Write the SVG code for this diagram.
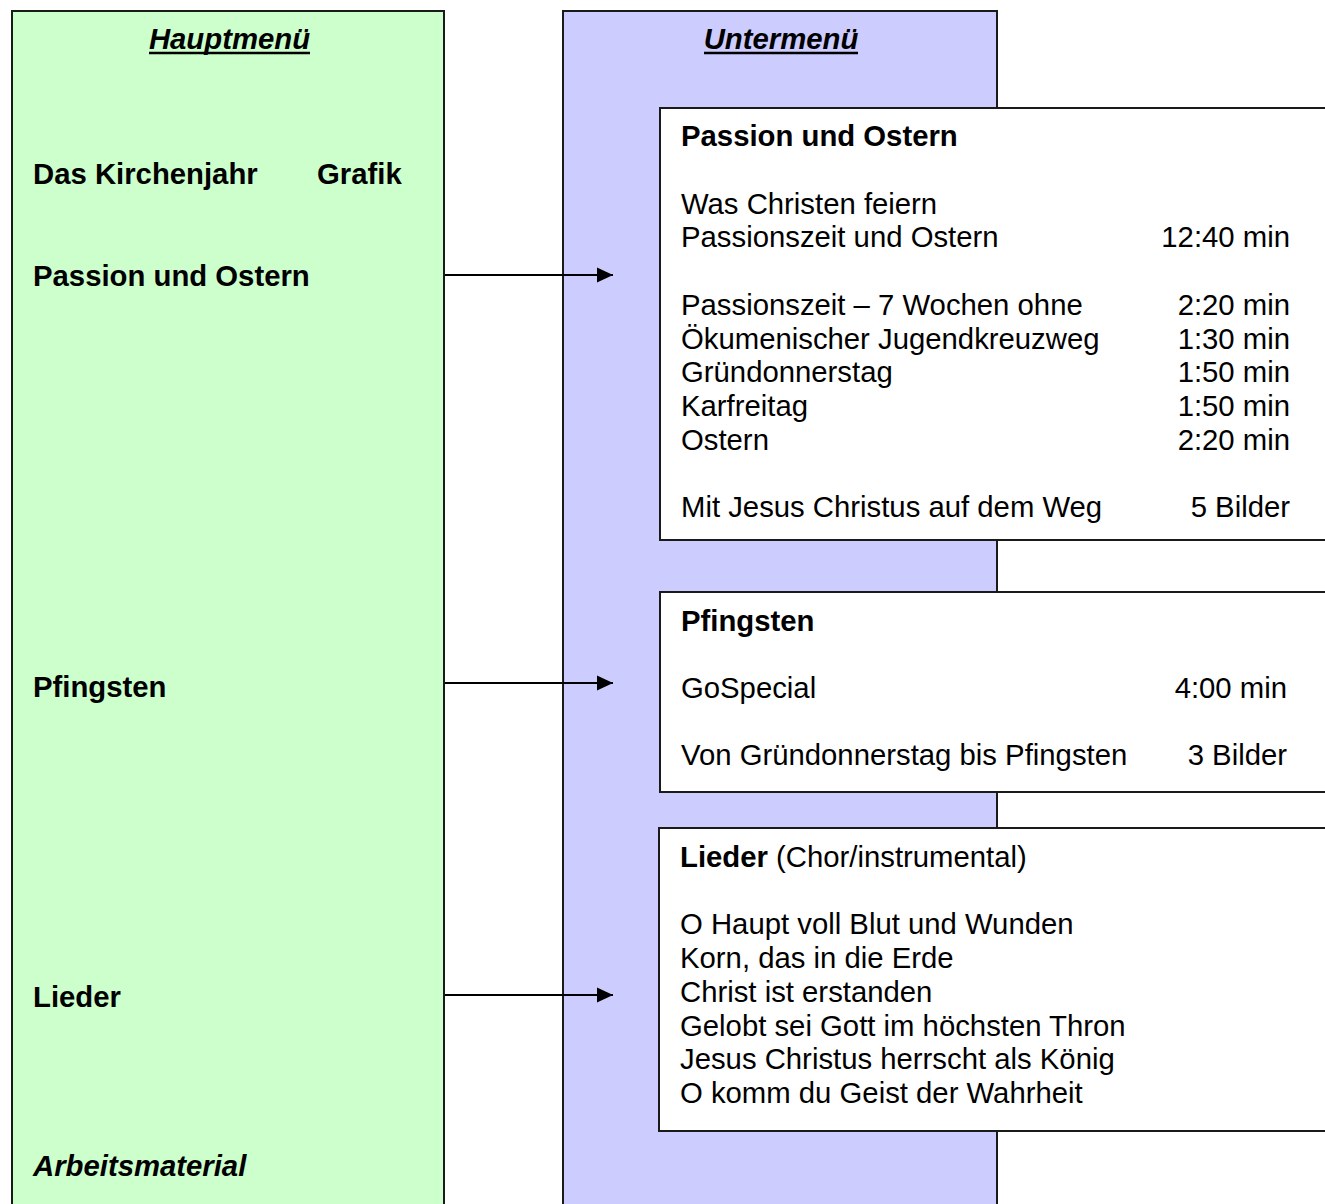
<svg xmlns="http://www.w3.org/2000/svg" width="1325" height="1204" viewBox="0 0 1325 1204">
<defs>
<style>
.t{font-family:"Liberation Sans",Arial,sans-serif;font-size:29.3px;fill:#000}
.b{font-weight:bold}
.i{font-style:italic}
.r{text-anchor:end}
.c{text-anchor:middle}
.box{stroke:#1a1a1a;stroke-width:2}
.conn{stroke:#000;stroke-width:2;fill:none}
.ul{stroke:#000;stroke-width:2.5}
</style>
<marker id="ah" markerWidth="16" markerHeight="16" viewBox="0 0 16 16" refX="16" refY="8" orient="auto" markerUnits="userSpaceOnUse">
<path d="M0,0.5 L16,8 L0,15.5 Z" fill="#000"/>
</marker>
</defs>
<rect width="1325" height="1204" fill="#fff"/>
<g id="hauptmenue">
<rect class="box" x="12" y="11" width="432" height="1210" fill="#CCFFCC"/>
<text class="t b i c" x="229.5" y="49">Hauptmenü</text>
<line class="ul" x1="149" y1="53" x2="310" y2="53"/>
<text class="t b" x="33" y="184">Das Kirchenjahr</text>
<text class="t b" x="317" y="184">Grafik</text>
<text class="t b" x="33" y="286">Passion und Ostern</text>
<text class="t b" x="33" y="697">Pfingsten</text>
<text class="t b" x="33" y="1007">Lieder</text>
<text class="t b i" x="33" y="1176">Arbeitsmaterial</text>
</g>
<g id="untermenue">
<rect class="box" x="563" y="11" width="434" height="1210" fill="#CCCCFF"/>
<text class="t b i c" x="781" y="49">Untermenü</text>
<line class="ul" x1="704" y1="53" x2="858" y2="53"/>
</g>
<g id="box-passion">
<rect class="box" x="660" y="108" width="690" height="432" fill="#fff"/>
<text class="t b" x="681" y="146">Passion und Ostern</text>
<text class="t" x="681" y="214">Was Christen feiern</text>
<text class="t" x="681" y="247">Passionszeit und Ostern</text>
<text class="t r" x="1290" y="247">12:40 min</text>
<text class="t" x="681" y="315">Passionszeit – 7 Wochen ohne</text>
<text class="t r" x="1290" y="315">2:20 min</text>
<text class="t" x="681" y="349">Ökumenischer Jugendkreuzweg</text>
<text class="t r" x="1290" y="349">1:30 min</text>
<text class="t" x="681" y="382">Gründonnerstag</text>
<text class="t r" x="1290" y="382">1:50 min</text>
<text class="t" x="681" y="416">Karfreitag</text>
<text class="t r" x="1290" y="416">1:50 min</text>
<text class="t" x="681" y="450">Ostern</text>
<text class="t r" x="1290" y="450">2:20 min</text>
<text class="t" x="681" y="517">Mit Jesus Christus auf dem Weg</text>
<text class="t r" x="1290" y="517">5 Bilder</text>
</g>
<g id="box-pfingsten">
<rect class="box" x="660" y="592" width="690" height="200" fill="#fff"/>
<text class="t b" x="681" y="631">Pfingsten</text>
<text class="t" x="681" y="698">GoSpecial</text>
<text class="t r" x="1287" y="698">4:00 min</text>
<text class="t" x="681" y="765">Von Gründonnerstag bis Pfingsten</text>
<text class="t r" x="1287" y="765">3 Bilder</text>
</g>
<g id="box-lieder">
<rect class="box" x="659" y="828" width="691" height="303" fill="#fff"/>
<text class="t" x="680" y="867"><tspan font-weight="bold">Lieder</tspan> (Chor/instrumental)</text>
<text class="t" x="680" y="934">O Haupt voll Blut und Wunden</text>
<text class="t" x="680" y="968">Korn, das in die Erde</text>
<text class="t" x="680" y="1002">Christ ist erstanden</text>
<text class="t" x="680" y="1036">Gelobt sei Gott im höchsten Thron</text>
<text class="t" x="680" y="1069">Jesus Christus herrscht als König</text>
<text class="t" x="680" y="1103">O komm du Geist der Wahrheit</text>
</g>
<g id="connectors">
<line class="conn" x1="445" y1="275" x2="613" y2="275" marker-end="url(#ah)"/>
<line class="conn" x1="445" y1="683" x2="613" y2="683" marker-end="url(#ah)"/>
<line class="conn" x1="445" y1="995" x2="613" y2="995" marker-end="url(#ah)"/>
</g>
</svg>
